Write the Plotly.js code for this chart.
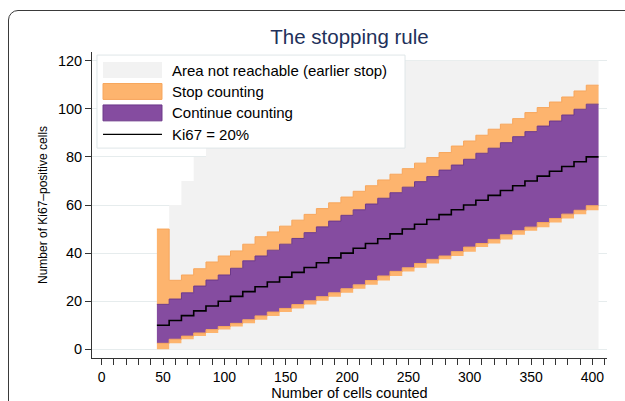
<!DOCTYPE html>
<html>
<head>
<meta charset="utf-8">
<script src="https://cdn.plot.ly/plotly-3.0.1.min.js"></script>
<style>
  html, body { margin: 0; padding: 0; background: #ffffff; overflow: hidden; }
  #chart { position: absolute; left: 0; top: 0; width: 625px; height: 401px; }
  #frame { position: absolute; left: 8px; top: 10px; width: 700px; height: 500px;
           border: 1.5px solid #3a3a3a; border-radius: 10px; pointer-events: none; }
</style>
</head>
<body>
<div id="chart"></div>
<div id="frame"></div>
<script>
// ---- data ----
const cellsCounted = [50,60,70,80,90,100,110,120,130,140,150,160,170,180,190,200,210,220,230,240,250,260,270,280,290,300,310,320,330,340,350,360,370,380,390,400];
const unreachableTop = [50,60,70,80,90,100,110,120,120,120,120,120,120,120,120,120,120,120,120,120,120,120,120,120,120,120,120,120,120,120,120,120,120,120,120,120];
const stopUpperTop = [50,28.7,30.9,33.5,36.3,38.8,40.9,43.7,46.8,48.8,51.2,53.7,56.1,58.5,60.9,63.3,65.7,68.0,70.4,72.8,75.1,77.4,79.7,81.8,84.5,86.6,89.0,91.5,93.6,95.9,98.4,100.5,102.8,104.9,107.4,109.8];
const continueUpper = [18.7,20.9,23.5,26.3,28.8,30.9,33.7,36.8,38.8,41.2,43.7,46.1,48.5,50.9,53.3,55.7,58.0,60.4,62.8,65.1,67.4,69.7,71.8,74.5,76.6,79.0,81.5,83.6,85.9,88.4,90.5,92.8,94.9,97.4,99.8,101.9];
const ki67Line = [10,12,14,16,18,20,22,24,26,28,30,32,34,36,38,40,42,44,46,48,50,52,54,56,58,60,62,64,66,68,70,72,74,76,78,80];
const continueLower = [2.5,4.2,5.5,6.8,8.2,9.5,10.8,12.3,13.9,15.5,17.0,18.6,20.2,21.9,23.5,25.2,26.8,28.6,30.5,32.4,33.9,35.7,37.4,38.8,40.6,42.5,44.0,45.7,47.6,49.3,50.8,52.7,54.4,56.2,57.8,59.7];
const stopLowerBottom = [0,2.5,4.2,5.5,6.8,8.2,9.5,10.8,12.3,13.9,15.5,17.0,18.6,20.2,21.9,23.5,25.2,26.8,28.6,30.5,32.4,33.9,35.7,37.4,38.8,40.6,42.5,44.0,45.7,47.6,49.3,50.8,52.7,54.4,56.2,57.8];
const xTickVals = [0,50,100,150,200,250,300,350,400];
const yTickVals = [0,20,40,60,80,100,120];
const legendLabels = ["Area not reachable (earlier stop)", "Stop counting", "Continue counting", "Ki67 = 20%"];

// ---- styles ----
const C_GRAY = '#f2f2f2', C_ORANGE = '#fdb46e', C_ORANGE_EDGE = '#f7a65c',
      C_PURPLE = '#854ca0', C_PURPLE_EDGE = '#6c3889';
const FONT = 'Liberation Sans, Arial, Helvetica, sans-serif';
const HALF = 5; // each step is centred on its count

const stepX = cellsCounted.map(v => v - HALF).concat([cellsCounted[cellsCounted.length - 1] + HALF]);
const stepY = arr => arr.concat([arr[arr.length - 1]]);

const base = { x: stepX, mode: 'lines', line: { shape: 'hv', width: 0 }, showlegend: false, hoverinfo: 'skip' };

const traces = [
  Object.assign({}, base, { y: stepY(unreachableTop), fill: 'tozeroy', fillcolor: C_GRAY, name: legendLabels[0] }),
  Object.assign({}, base, { y: stepY(stopLowerBottom), line: { shape: 'hv', width: 0 } }),
  Object.assign({}, base, { y: stepY(continueLower), fill: 'tonexty', fillcolor: C_ORANGE, line: { shape: 'hv', width: 1, color: C_ORANGE_EDGE }, name: legendLabels[1] }),
  Object.assign({}, base, { y: stepY(continueUpper), fill: 'tonexty', fillcolor: C_PURPLE, line: { shape: 'hv', width: 1, color: C_PURPLE_EDGE }, name: legendLabels[2] }),
  Object.assign({}, base, { y: stepY(stopUpperTop), fill: 'tonexty', fillcolor: C_ORANGE, line: { shape: 'hv', width: 1, color: C_ORANGE_EDGE } }),
  Object.assign({}, base, { y: stepY(ki67Line), line: { shape: 'hv', width: 1.6, color: '#000000' }, name: legendLabels[3] })
];

// ---- custom legend (paper coords) ----
const LX0 = 0.0214, LX1 = 0.1359, TX = 0.1515;
const rowY = [0.941, 0.871, 0.801, 0.731];
const SW = 0.026;
const shapes = [
  { type: 'rect', xref: 'paper', yref: 'paper', x0: 0.0097, x1: 0.6078, y0: 0.686, y1: 0.99,
    fillcolor: '#ffffff', line: { color: '#dfe6e8', width: 1 }, layer: 'above' },
  { type: 'rect', xref: 'paper', yref: 'paper', x0: LX0, x1: LX1, y0: rowY[0] - SW, y1: rowY[0] + SW,
    fillcolor: C_GRAY, line: { width: 0 }, layer: 'above' },
  { type: 'rect', xref: 'paper', yref: 'paper', x0: LX0, x1: LX1, y0: rowY[1] - SW, y1: rowY[1] + SW,
    fillcolor: C_ORANGE, line: { color: C_ORANGE_EDGE, width: 1 }, layer: 'above' },
  { type: 'rect', xref: 'paper', yref: 'paper', x0: LX0, x1: LX1, y0: rowY[2] - SW, y1: rowY[2] + SW,
    fillcolor: C_PURPLE, line: { color: C_PURPLE_EDGE, width: 1 }, layer: 'above' },
  { type: 'line', xref: 'paper', yref: 'paper', x0: LX0, x1: LX1, y0: rowY[3], y1: rowY[3],
    line: { color: '#000000', width: 1.3 }, layer: 'above' }
];
const annotations = legendLabels.map((t, i) => ({
  text: t, xref: 'paper', yref: 'paper', x: TX, y: rowY[i], xanchor: 'left', yanchor: 'middle',
  showarrow: false, font: { family: FONT, size: 15, color: '#000000' }
}));

const layout = {
  width: 625, height: 401,
  margin: { l: 92, r: 18, t: 52, b: 43, pad: 0 },
  paper_bgcolor: '#ffffff', plot_bgcolor: '#ffffff',
  font: { family: FONT, size: 14, color: '#000000' },
  title: { text: 'The stopping rule', x: 0.5, xref: 'paper', xanchor: 'center', y: 0.908, yref: 'container', yanchor: 'middle',
           font: { family: FONT, size: 20.5, color: '#22305a' } },
  xaxis: {
    range: [-7.9, 411.9], tickmode: 'array', tickvals: xTickVals, ticktext: xTickVals.map(String),
    ticks: 'outside', ticklen: 6, tickwidth: 1, tickcolor: '#333333',
    minor: { tickmode: 'linear', tick0: 0, dtick: 10, ticks: 'outside', ticklen: 6, tickwidth: 1, tickcolor: '#333333', showgrid: false },
    showline: true, linecolor: '#333333', linewidth: 1, showgrid: false, zeroline: false,
    tickfont: { family: FONT, size: 14, color: '#000000' },
    title: { text: 'Number of cells counted', font: { family: FONT, size: 14.5, color: '#000000' }, standoff: 4 }
  },
  yaxis: {
    range: [-3.6, 123.6], tickmode: 'array', tickvals: yTickVals, ticktext: yTickVals.map(String),
    ticks: 'outside', ticklen: 6, tickwidth: 1, tickcolor: '#333333',
    showline: true, linecolor: '#333333', linewidth: 1, showgrid: true, gridcolor: '#e6eced', gridwidth: 1, zeroline: false,
    tickfont: { family: FONT, size: 14.5, color: '#000000' },
    title: { text: 'Number of Ki67\u2013positive cells', font: { family: FONT, size: 12, color: '#000000' }, standoff: 7 }
  },
  shapes: shapes,
  annotations: annotations,
  showlegend: false
};

Plotly.newPlot('chart', traces, layout, { displayModeBar: false, staticPlot: true });
</script>
</body>
</html>
